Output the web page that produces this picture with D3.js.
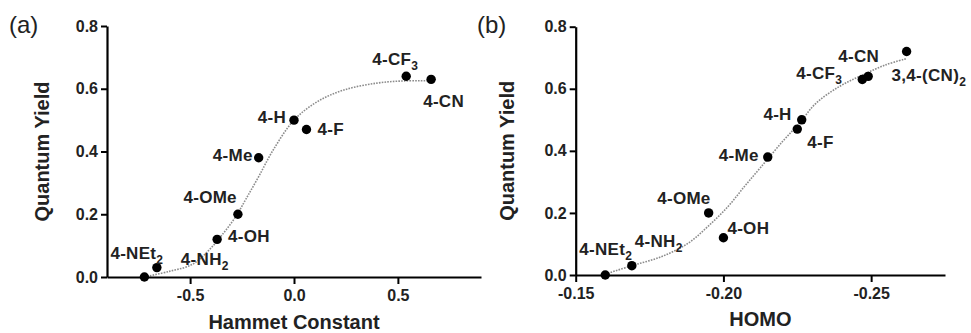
<!DOCTYPE html>
<html>
<head>
<meta charset="utf-8">
<title>Quantum yield vs Hammett constant / HOMO</title>
<script src="https://d3js.org/d3.v7.min.js"></script>
<style>
  body { margin: 0; background: #fff; }
  text { font-family: "Liberation Sans", Arial, sans-serif; }
</style>
</head>
<body>
<div id="chart"></div>
<script>
// panel (a): Hammett constant
var labelsA = ["4-NEt_2", "4-NH_2", "4-OH", "4-OMe", "4-Me", "4-H", "4-F", "4-CF_3", "4-CN"];
var hammett = [-0.72, -0.66, -0.37, -0.27, -0.17, 0.00, 0.06, 0.54, 0.66];
var yieldA  = [0.00, 0.03, 0.12, 0.20, 0.38, 0.50, 0.47, 0.64, 0.63];
var fitXA = [-0.72, -0.60, -0.49, -0.41, -0.345, -0.28, -0.23, -0.17, -0.10, 0.00, 0.11, 0.24, 0.40, 0.53, 0.66];
var fitYA = [0.000, 0.018, 0.040, 0.085, 0.135, 0.193, 0.250, 0.320, 0.405, 0.500, 0.558, 0.596, 0.618, 0.625, 0.625];
var xTicksA = [-0.5, 0.0, 0.5];

// panel (b): HOMO
var labelsB = ["4-NEt_2", "4-NH_2", "4-OMe", "4-OH", "4-Me", "4-H", "4-F", "4-CF_3", "4-CN", "3,4-(CN)_2"];
var homo   = [-0.160, -0.169, -0.195, -0.200, -0.215, -0.2265, -0.225, -0.247, -0.249, -0.262];
var yieldB = [0.00, 0.03, 0.20, 0.12, 0.38, 0.50, 0.47, 0.63, 0.64, 0.72];
var fitXB = [-0.160, -0.169, -0.179, -0.188, -0.1947, -0.2015, -0.2071, -0.2128, -0.220, -0.2257, -0.2313, -0.2392, -0.247, -0.2549, -0.262];
var fitYB = [0.003, 0.030, 0.059, 0.102, 0.156, 0.220, 0.285, 0.349, 0.430, 0.489, 0.553, 0.607, 0.644, 0.677, 0.697];
var xTicksB = [-0.15, -0.20, -0.25];

var yTicks = [0.0, 0.2, 0.4, 0.6, 0.8];

// label placement (pixels relative to the dot): [dx, dy, anchor]
var placeA = [[-34, -18, "start"], [24, -3, "start"], [11, 3, "start"], [-1, -11, "end"], [-6, 3, "end"],
              [-8, 3, "end"], [11, 5, "start"], [12, -11, "end"], [-8, 28, "start"]];
var placeB = [[-26, -20, "start"], [3, -19, "start"], [2, -9, "end"], [4, -4, "start"], [-9, 4, "end"],
              [-10, 0, "end"], [10, 19, "start"], [-20, 0, "end"], [-30, -14, "start"], [-15, 29, "start"]];

var svg = d3.select("#chart").append("svg")
    .attr("width", 971).attr("height", 333);

function addLabel(g, str, x, y, anchor) {
    var t = g.append("text")
        .attr("x", x).attr("y", y)
        .attr("text-anchor", anchor)
        .style("font-size", "17px").style("font-weight", "bold")
        .style("letter-spacing", "0.3px");
    var parts = str.split("_");
    t.append("tspan").text(parts[0]);
    if (parts.length > 1) {
        t.append("tspan").attr("dy", 5).style("font-size", "12px").text(parts[1]);
    }
}

function drawPanel(p) {
    var g = svg.append("g");
    var x = d3.scaleLinear().domain(p.xDomain).range(p.xRange);
    var y = d3.scaleLinear().domain([0, 0.8]).range(p.yRange);

    // fitted curve
    var line = d3.line()
        .x(function (d) { return x(d[0]); })
        .y(function (d) { return y(d[1]); })
        .curve(d3.curveCatmullRom);
    g.append("path")
        .datum(d3.zip(p.fitX, p.fitY))
        .attr("d", line)
        .attr("fill", "none")
        .attr("stroke", "#8c8c8c")
        .attr("stroke-width", 1.6)
        .attr("stroke-dasharray", "1.6,1.2");

    var xAxis = g.append("g")
        .attr("transform", "translate(0," + p.yRange[0] + ")")
        .call(d3.axisBottom(x).tickValues(p.xTicks).tickFormat(p.fmt)
            .tickSize(7).tickSizeOuter(0).tickPadding(6));
    var yAxis = g.append("g")
        .attr("transform", "translate(" + p.xRange[0] + ",0)")
        .call(d3.axisLeft(y).tickValues(yTicks).tickFormat(function (v) { return v.toFixed(1); })
            .tickSize(6).tickSizeOuter(0).tickPadding(3));
    [xAxis, yAxis].forEach(function (a) {
        a.select(".domain").attr("stroke", "#000").attr("stroke-width", 2.2);
        a.selectAll(".tick line").attr("stroke", "#000").attr("stroke-width", 2);
        a.selectAll(".tick text").attr("fill", "#222")
            .style("font-size", "16px").style("font-weight", "bold")
            .style("font-family", "'Liberation Sans', Arial, sans-serif");
    });

    // dots
    g.selectAll("circle.pt")
        .data(d3.range(p.xs.length))
        .join("circle")
        .attr("class", "pt")
        .attr("cx", function (i) { return x(p.xs[i]); })
        .attr("cy", function (i) { return y(p.ys[i]); })
        .attr("r", 4.7)
        .attr("fill", "#000");

    var lg = g.append("g").attr("fill", "#222");
    p.labels.forEach(function (lab, i) {
        var pl = p.place[i];
        addLabel(lg, lab, x(p.xs[i]) + pl[0], y(p.ys[i]) + pl[1], pl[2]);
    });

    // axis titles
    g.append("text")
        .attr("x", (p.xRange[0] + p.xRange[1]) / 2).attr("y", p.xTitleY)
        .attr("text-anchor", "middle")
        .style("font-size", "20px").style("font-weight", "bold").attr("fill", "#222")
        .text(p.xTitle);
    g.append("text")
        .attr("transform", "translate(" + p.yTitleX + "," + ((p.yRange[0] + p.yRange[1]) / 2) + ") rotate(-90)")
        .attr("text-anchor", "middle")
        .attr("dy", "0.35em")
        .style("font-size", "20px").style("font-weight", "bold").attr("fill", "#222")
        .text("Quantum Yield");

    g.append("text")
        .attr("x", p.tagX).attr("y", 33)
        .style("font-size", "24px").attr("fill", "#222")
        .text(p.tag);
}

drawPanel({
    xs: hammett, ys: yieldA, labels: labelsA, place: placeA,
    fitX: fitXA, fitY: fitYA, xTicks: xTicksA,
    xDomain: [-0.9, 0.9], xRange: [107, 481], yRange: [277, 26],
    fmt: function (v) { return v.toFixed(1); },
    xTitle: "Hammet Constant", xTitleY: 329, yTitleX: 42, tag: "(a)", tagX: 9
});
drawPanel({
    xs: homo, ys: yieldB, labels: labelsB, place: placeB,
    fitX: fitXB, fitY: fitYB, xTicks: xTicksB,
    xDomain: [-0.15, -0.275], xRange: [575.7, 945], yRange: [275, 26.7],
    fmt: function (v) { return v.toFixed(2); },
    xTitle: "HOMO", xTitleY: 326, yTitleX: 507, tag: "(b)", tagX: 477
});
</script>
</body>
</html>
